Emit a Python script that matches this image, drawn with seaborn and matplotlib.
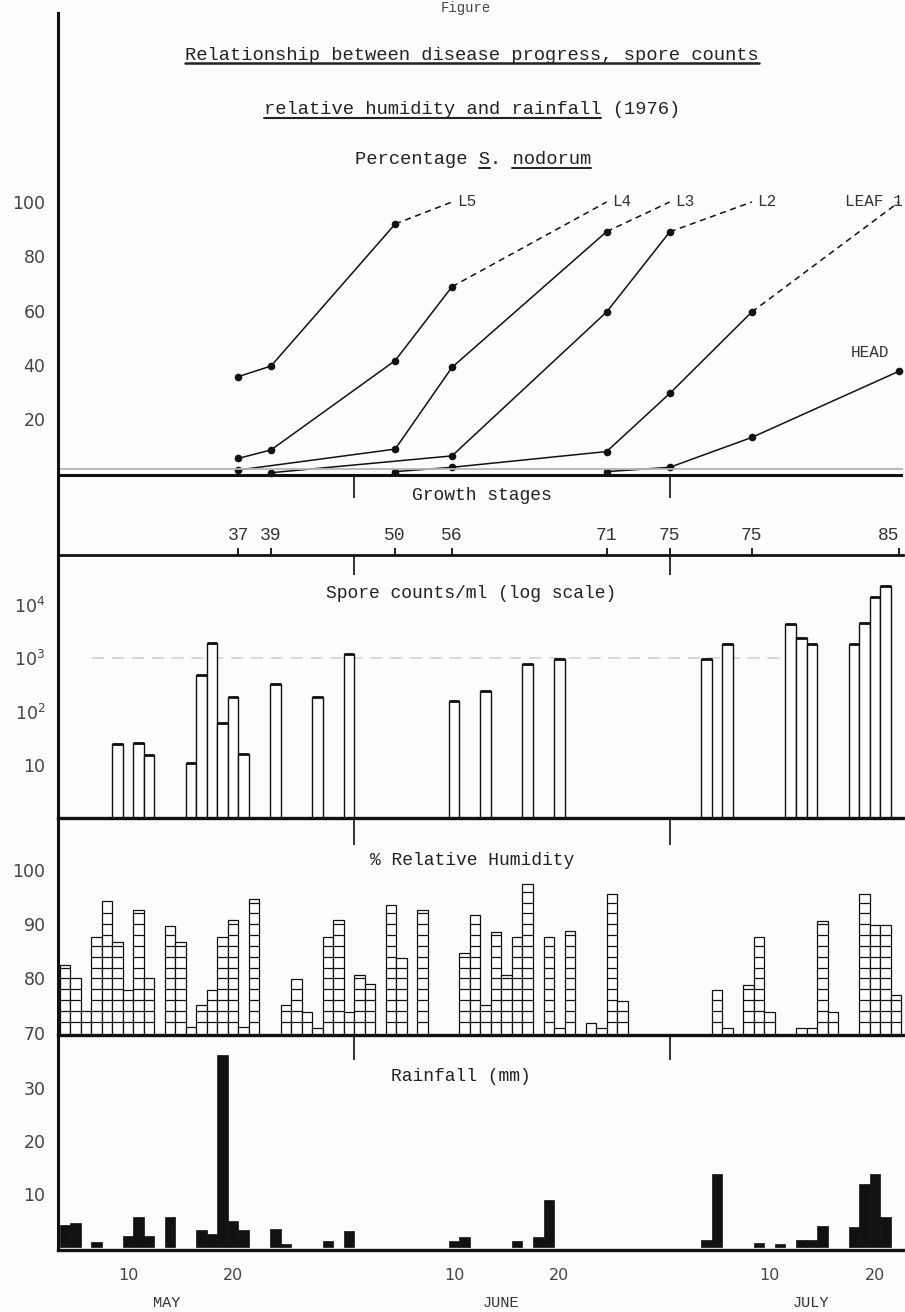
import numpy as np
import pandas as pd
import matplotlib
matplotlib.use("Agg")
import matplotlib.pyplot as plt
from matplotlib.lines import Line2D
from matplotlib.ticker import NullLocator
import seaborn as sns

# === DATA (x = day number, 1 = 1 May 1976) ===
GS_DAYS = [20.5, 23.6, 35.4, 40.8, 55.5, 61.5, 69.3, 83.3]
GS_LABELS = ["37", "39", "50", "56", "71", "75", "75", "85"]

# percentage S. nodorum, solid part of each curve
L5_DAYS = [20.5, 23.6, 35.4]
L5_PCT = [35.7, 39.6, 91.9]
L4_DAYS = [20.5, 23.6, 35.4, 40.8]
L4_PCT = [5.6, 8.7, 41.6, 68.8]
L3_DAYS = [20.5, 35.4, 40.8, 55.5]
L3_PCT = [1.3, 9.0, 39.1, 89.1]
L2_DAYS = [23.6, 40.8, 55.5, 61.5]
L2_PCT = [0.3, 6.5, 59.5, 89.0]
LEAF1_DAYS = [35.4, 40.8, 55.5, 61.5, 69.3]
LEAF1_PCT = [0.7, 2.3, 8.1, 29.5, 59.5]
HEAD_DAYS = [55.5, 61.5, 69.3, 83.3]
HEAD_PCT = [0.7, 2.3, 13.3, 37.7]
# dashed extension: day each leaf reached 100 %
FULL_DAYS = {"L5": 40.8, "L4": 55.5, "L3": 61.5, "L2": 69.3, "LEAF 1": 83.3}

SPORE_DAYS = [9, 11, 12, 16, 17, 18, 19, 20, 21, 24, 28, 31, 41, 44, 48, 51,
              65, 67, 73, 74, 75, 79, 80, 81, 82]
SPORE_COUNTS = [25, 26, 15, 10.7, 490, 1900, 62, 190, 16, 325, 190, 1200, 155,
                245, 780, 970, 960, 1850, 4500, 2400, 1850, 1850, 4700, 14000, 23000]

RH_DAYS = [4, 5, 6, 7, 8, 9, 10, 11, 12, 14, 15, 16, 17, 18, 19, 20, 21, 22,
           25, 26, 27, 28, 29, 30, 31, 32, 33, 35, 36, 38, 42, 43, 44, 45, 46,
           47, 48, 50, 51, 52, 54, 55, 56, 57, 66, 67, 69, 70, 71, 74, 75, 76,
           77, 80, 81, 82, 83]
RH_PCT = [82.5, 80, 74, 87.7, 94.3, 86.8, 77.8, 92.6, 80, 89.6, 86.8, 71, 75,
          77.8, 87.7, 90.8, 71, 94.6, 75, 79.9, 73.8, 70.8, 87.7, 90.8, 73.8,
          80.6, 79, 93.5, 83.7, 92.6, 84.6, 91.7, 75, 88.6, 80.7, 87.7, 97.5,
          87.7, 70.8, 88.8, 71.8, 70.8, 95.6, 75.8, 77.8, 70.8, 78.8, 87.7,
          73.8, 70.8, 70.8, 90.6, 73.8, 95.6, 89.8, 89.8, 76.9]

RAIN_DAYS = [4, 5, 7, 10, 11, 12, 14, 17, 18, 19, 20, 21, 24, 25, 29, 31, 41,
             42, 47, 49, 50, 65, 66, 70, 72, 74, 75, 76, 79, 80, 81, 82]
RAIN_MM = [4.2, 4.6, 1.1, 2.2, 5.8, 2.2, 5.8, 3.3, 2.5, 36.1, 5.0, 3.3, 3.4,
           0.7, 1.3, 3.1, 1.3, 2.0, 1.3, 1.9, 9.0, 1.4, 13.8, 0.8, 0.6, 1.5,
           1.5, 4.0, 3.9, 11.9, 13.8, 5.8]

MONTH_BOUNDS = [31.5, 61.5]
DATE_TICKS = [10, 20, 41, 51, 71, 81]
DATE_LABELS = ["10", "20", "10", "20", "10", "20"]
MONTHS = [("MAY", 13.7), ("JUNE", 45.5), ("JULY", 74.9)]

# === STYLE ===
sns.set_style("white")
plt.rcParams["font.family"] = ["DejaVu Sans"]
INK = "#111111"
BG = "#fcfcfa"
MONO = "Liberation Mono"
XMIN, XMAX = 3.35, 83.67
W, H = 905, 1312

fig = plt.figure(figsize=(W / 100, H / 100), dpi=100, facecolor=BG)


def box(top_px, bottom_px):
    return [58 / W, 1 - bottom_px / H, (903 - 58) / W, (bottom_px - top_px) / H]


ax1 = fig.add_axes(box(13, 555))
ax2 = fig.add_axes(box(555, 818))
ax3 = fig.add_axes(box(818, 1035))
ax4 = fig.add_axes(box(1035, 1250))

for ax in (ax1, ax2, ax3, ax4):
    ax.set_facecolor("none")
    ax.spines[["top", "right"]].set_visible(False)
    ax.spines["left"].set_linewidth(2.2)
    ax.spines["left"].set_color(INK)
    ax.spines["bottom"].set_linewidth(2.4)
    ax.spines["bottom"].set_color(INK)
    ax.tick_params(axis="y", direction="out", length=7, width=1.5, pad=2,
                   labelsize=12.5, labelcolor="#444", color=INK)

# === PANEL 1: disease progress ===
series = [("L5", L5_DAYS, L5_PCT), ("L4", L4_DAYS, L4_PCT), ("L3", L3_DAYS, L3_PCT),
          ("L2", L2_DAYS, L2_PCT), ("LEAF 1", LEAF1_DAYS, LEAF1_PCT),
          ("HEAD", HEAD_DAYS, HEAD_PCT)]
for name, d, p in series:
    sns.lineplot(x=d, y=p, ax=ax1, color=INK, lw=1.1, marker="o", markersize=5.5,
                 markeredgewidth=0, estimator=None, sort=False)
    if name in FULL_DAYS:
        ax1.plot([d[-1], FULL_DAYS[name]], [p[-1], 100], color=INK, lw=1.1,
                 ls=(0, (4, 3)))
        if name == "LEAF 1":
            ax1.text(FULL_DAYS[name] + 0.3, 100, name, ha="right", va="center",
                     fontsize=11.5, family=MONO, color="#333")
        else:
            ax1.text(FULL_DAYS[name] + 0.5, 100, name, ha="left", va="center",
                     fontsize=11.5, family=MONO, color="#333")
ax1.text(80.5, 44.4, "HEAD", ha="center", va="center", fontsize=11.5,
         family=MONO, color="#333")

ax1.axhline(1.5, color="#b5b5b5", lw=1.3)
ax1.axhline(-0.5, color=INK, lw=2.2)
ax1.vlines(MONTH_BOUNDS, -9.0, -0.5, color=INK, lw=1.2)
ax1.text(43.6, -8.2, "Growth stages", ha="center", va="center", fontsize=13,
         family=MONO, color="#222")
ax1.spines["bottom"].set_visible(False)
ax1.set_xlim(XMIN, XMAX)
ax1.set_ylim(-30, 169.6)
ax1.set_yticks([20, 40, 60, 80, 100])
ax1.set_xticks([])
ax1.set(xlabel="", ylabel="")

# === PANEL 2: spore counts ===
spore = pd.DataFrame({"day": SPORE_DAYS, "count": SPORE_COUNTS})
sns.barplot(data=spore, x="day", y="count", ax=ax2, native_scale=True, width=1,
            color="white", saturation=1, edgecolor=INK, linewidth=1.0,
            errorbar=None)
ax2.set_yscale("log")
sd = np.array(SPORE_DAYS)
ax2.hlines(SPORE_COUNTS, sd - 0.5, sd + 0.5, color=INK, lw=2)
ax2.axhline(1000, xmin=0.04, xmax=0.86, color="#cfcfcf", lw=1.1,
            ls=(0, (8, 5)), zorder=0)
ax2.set_xlim(XMIN, XMAX)
ax2.set_ylim(1, 10 ** 4.94)
ax2.set_yticks([10, 100, 1000, 10000], ["10", "$10^2$", "$10^3$", "$10^4$"])
ax2.yaxis.set_minor_locator(NullLocator())
ax2.spines["top"].set_visible(True)
ax2.spines["top"].set_linewidth(2.0)
ax2.spines["top"].set_color(INK)
ax2.set_xticks(GS_DAYS, GS_LABELS)
ax2.tick_params(axis="x", top=True, bottom=False, labeltop=True,
                labelbottom=False, direction="out", length=5, width=1.3, pad=3,
                labelsize=13, labelcolor="#333", color=INK,
                labelfontfamily=MONO)
# keep the last growth stage label inside the page
ax2.get_xticklabels()[-1].set_horizontalalignment("right")
ax2.vlines(MONTH_BOUNDS, 1 - 20 / 263, 1, transform=ax2.get_xaxis_transform(),
           color=INK, lw=1.2)
ax2.text(42.6, 0.855, "Spore counts/ml (log scale)", ha="center", va="center",
         transform=ax2.get_xaxis_transform(), fontsize=13, family=MONO,
         color="#222")
ax2.set(xlabel="", ylabel="")

# === PANEL 3: relative humidity ===
rh = pd.DataFrame({"day": RH_DAYS, "rh": RH_PCT})
sns.barplot(data=rh, x="day", y="rh", ax=ax3, native_scale=True, width=1,
            color="white", saturation=1, edgecolor=INK, linewidth=0.9,
            errorbar=None)
for d, v in zip(RH_DAYS, RH_PCT):
    levels = np.arange(72, v - 0.4, 2)
    ax3.hlines(levels, d - 0.5, d + 0.5, color=INK, lw=0.9)
ax3.set_xlim(XMIN, XMAX)
ax3.set_ylim(69.54, 109.6)
ax3.set_yticks([70, 80, 90, 100])
ax3.set_xticks([])
ax3.vlines(MONTH_BOUNDS, 1 - 27 / 217, 1, transform=ax3.get_xaxis_transform(),
           color=INK, lw=1.2)
ax3.text(42.7, 0.806, "% Relative Humidity", ha="center", va="center",
         transform=ax3.get_xaxis_transform(), fontsize=13, family=MONO,
         color="#222")
ax3.set(xlabel="", ylabel="")

# === PANEL 4: rainfall ===
rain = pd.DataFrame({"day": RAIN_DAYS, "mm": RAIN_MM})
sns.barplot(data=rain, x="day", y="mm", ax=ax4, native_scale=True, width=1,
            color=INK, saturation=1, edgecolor=INK, linewidth=0.5,
            errorbar=None)
ax4.set_xlim(XMIN, XMAX)
ax4.set_ylim(-0.47, 39.9)
ax4.set_yticks([10, 20, 30])
ax4.set_xticks(DATE_TICKS, DATE_LABELS)
ax4.set_xticks(MONTH_BOUNDS, minor=True)
ax4.tick_params(axis="x", which="major", direction="out", length=9, width=1.4,
                pad=4, labelsize=11.5, labelcolor="#444", color=INK)
ax4.tick_params(axis="x", which="minor", direction="out", length=18, width=1.4,
                color=INK)
ax4.vlines(MONTH_BOUNDS, 1 - 25 / 215, 1, transform=ax4.get_xaxis_transform(),
           color=INK, lw=1.2)
ax4.text(41.6, 0.805, "Rainfall (mm)", ha="center", va="center",
         transform=ax4.get_xaxis_transform(), fontsize=13, family=MONO,
         color="#222")
for m, x in MONTHS:
    ax4.text(x, -0.2465, m, ha="center", va="center",
             transform=ax4.get_xaxis_transform(), fontsize=11, family=MONO,
             color="#333")
ax4.set(xlabel="", ylabel="")

# === TITLES (with typed underlines) ===
fig.text(0.515, 1 - 1 / H, "Figure", ha="center", va="top", fontsize=10,
         family=MONO, color="#444")
t1 = fig.text(0.5215, 1 - 55 / H, "Relationship between disease progress, spore counts",
              ha="center", va="center", fontsize=13.5, family=MONO, color="#222")
t2 = fig.text(0.5215, 1 - 110 / H, "relative humidity and rainfall (1976)",
              ha="center", va="center", fontsize=13.5, family=MONO, color="#222")
t3 = fig.text(0.5226, 1 - 160 / H, "Percentage S. nodorum",
              ha="center", va="center", fontsize=13.5, family=MONO, color="#222")

fig.canvas.draw()
inv = fig.transFigure.inverted()


def underline(txt, first, last, lw):
    bb = txt.get_window_extent()
    cw = bb.width / len(txt.get_text())
    x0, x1 = bb.x0 + first * cw, bb.x0 + last * cw
    y = bb.y0 + 1
    (fx0, fy), (fx1, _) = inv.transform([(x0, y), (x1, y)])
    fig.add_artist(Line2D([fx0, fx1], [fy, fy], transform=fig.transFigure,
                          color="#222", lw=lw))


underline(t1, 0, len(t1.get_text()), 1.8)
underline(t2, 0, 30, 1.5)
underline(t3, 11, 12, 1.4)
underline(t3, 14, 21, 1.4)

fig.savefig("out.png", dpi=100, facecolor=BG)
